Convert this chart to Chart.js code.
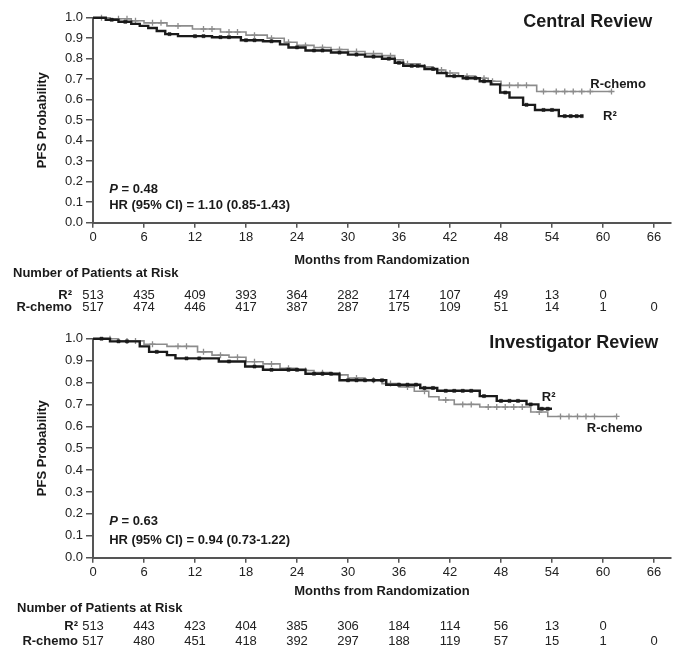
<!DOCTYPE html>
<html>
<head>
<meta charset="utf-8">
<script src="https://cdn.jsdelivr.net/npm/chart.js@4.4.1/dist/chart.umd.min.js"></script>
<style>
  html, body { margin: 0; padding: 0; background: #fff; }
  #wrap { position: relative; width: 683px; height: 659px; overflow: hidden; }
  .panel { position: absolute; left: 0; width: 683px; }
</style>
</head>
<body>
<div id="wrap">
  <div class="panel" style="top:0;height:322px"><canvas id="central" width="683" height="322"></canvas></div>
  <div class="panel" style="top:322px;height:337px"><canvas id="investigator" width="683" height="337"></canvas></div>
</div>
<script>
// ---- axes ----
const monthTicks = [0, 6, 12, 18, 24, 30, 36, 42, 48, 54, 60, 66];
const probTicks = [0, 0.1, 0.2, 0.3, 0.4, 0.5, 0.6, 0.7, 0.8, 0.9, 1.0];

// ---- Central review: Kaplan-Meier steps [month, PFS probability] ----
const centralR2Steps = [[0,1.0],[1.5,0.99],[3,0.98],[4.5,0.97],[5.5,0.96],[6.5,0.95],[7.5,0.935],[8.5,0.92],[10,0.91],[14,0.905],[17.4,0.89],[20,0.885],[22,0.87],[23,0.855],[25,0.84],[28,0.83],[30,0.82],[32,0.81],[34,0.80],[35.5,0.78],[36.5,0.765],[39,0.75],[40.5,0.73],[41.6,0.715],[43.5,0.705],[45.5,0.69],[46.8,0.675],[47.9,0.635],[49,0.61],[50.6,0.575],[52,0.55],[54.8,0.52],[57.5,0.52]];
const centralRchemoSteps = [[0,1.0],[2,0.995],[4.5,0.985],[6,0.975],[8.7,0.96],[11.7,0.945],[15,0.93],[18,0.915],[20.5,0.9],[22.5,0.88],[24,0.865],[26,0.855],[28,0.845],[30,0.835],[32,0.825],[34,0.815],[35.5,0.795],[36.5,0.775],[38.5,0.76],[40,0.745],[41.5,0.73],[43,0.715],[45,0.705],[46.5,0.69],[48,0.67],[52.2,0.64],[61,0.64]];
// censored observations
const centralR2Censored = [[2.2,0.99],[3.8,0.98],[9,0.92],[12,0.91],[13,0.91],[15,0.905],[16,0.905],[18,0.89],[19,0.89],[21,0.885],[24,0.855],[26,0.84],[27,0.84],[29,0.83],[31,0.82],[33,0.81],[34.8,0.80],[36,0.78],[37.5,0.765],[38.2,0.765],[40,0.75],[42.5,0.715],[44,0.705],[45,0.705],[46,0.69],[48.5,0.635],[51,0.575],[53,0.55],[54,0.55],[55.5,0.52],[56.2,0.52],[56.9,0.52],[57.5,0.52]];
const centralRchemoCensored = [[1,1.0],[3,0.995],[4,0.995],[5,0.985],[7,0.975],[8,0.975],[10,0.96],[13,0.945],[14,0.945],[16,0.93],[17,0.93],[19,0.915],[21,0.9],[23,0.88],[25,0.865],[27,0.855],[29,0.845],[31,0.835],[33,0.825],[35,0.815],[37,0.775],[39,0.76],[41,0.745],[42,0.73],[44,0.715],[46,0.705],[47,0.69],[49,0.67],[50,0.67],[51,0.67],[53,0.64],[54.5,0.64],[55.5,0.64],[56.5,0.64],[57.5,0.64],[58.5,0.64],[61,0.64]];
const centralRiskR2 = [513, 435, 409, 393, 364, 282, 174, 107, 49, 13, 0];
const centralRiskRchemo = [517, 474, 446, 417, 387, 287, 175, 109, 51, 14, 1, 0];

// ---- Investigator review ----
const investR2Steps = [[0,1.0],[2,0.988],[5.5,0.965],[6.6,0.94],[8.7,0.925],[9.7,0.91],[14.8,0.896],[17.9,0.873],[20,0.858],[25,0.84],[29,0.81],[34.5,0.79],[38.5,0.775],[40.5,0.762],[45.5,0.738],[47.5,0.716],[51,0.70],[52.4,0.68],[54,0.68]];
const investRchemoSteps = [[0,1.0],[3,0.99],[6,0.975],[8.7,0.965],[12.3,0.94],[14,0.925],[16,0.915],[18,0.895],[20,0.885],[22,0.865],[24,0.855],[26,0.845],[28,0.835],[30,0.82],[32,0.81],[34,0.795],[36,0.78],[37.8,0.76],[39.5,0.735],[40.7,0.72],[42.5,0.70],[45.5,0.688],[51.5,0.665],[53.5,0.645],[61.6,0.645]];
const investR2Censored = [[1,1.0],[3,0.988],[4,0.988],[7.5,0.94],[11,0.91],[12.5,0.91],[16,0.896],[19,0.873],[21,0.858],[23,0.858],[24,0.858],[26,0.84],[27,0.84],[28,0.84],[30,0.81],[31,0.81],[32,0.81],[33,0.81],[34,0.81],[36,0.79],[37,0.79],[38,0.79],[39,0.775],[40,0.775],[41.5,0.762],[42.5,0.762],[43.5,0.762],[44.5,0.762],[46,0.738],[48,0.716],[49,0.716],[50,0.716],[51.5,0.70],[52.8,0.68],[53.5,0.68]];
const investRchemoCensored = [[2,1.0],[4,0.99],[5,0.99],[7,0.975],[10,0.965],[11,0.965],[13,0.94],[15,0.925],[17,0.915],[19,0.895],[21,0.885],[23,0.865],[25,0.855],[27,0.845],[29,0.835],[31,0.82],[33,0.81],[35,0.795],[37,0.78],[39,0.76],[41.5,0.72],[43.5,0.70],[44.5,0.70],[46.5,0.688],[47.5,0.688],[48.5,0.688],[49.5,0.688],[50.5,0.688],[52.5,0.665],[55,0.645],[56,0.645],[57,0.645],[58,0.645],[59,0.645],[61.6,0.645]];
const investRiskR2 = [513, 443, 423, 404, 385, 306, 184, 114, 56, 13, 0];
const investRiskRchemo = [517, 480, 451, 418, 392, 297, 188, 119, 57, 15, 1, 0];

const FONT = "'Liberation Sans', Arial, Helvetica, sans-serif";
const INK = '#1a1a1a';
const GREY = '#8c8c8c';
const toXY = arr => arr.map(([x, y]) => ({ x, y }));

// Draws panel title, series labels, P / HR annotation and the at-risk table
const kmText = {
  id: 'kmText',
  afterDraw(chart, args, o) {
    const { ctx, scales: { x, y } } = chart;
    const px = m => x.getPixelForValue(m);
    const py = v => y.getPixelForValue(v);
    ctx.save();
    ctx.fillStyle = INK;
    ctx.textBaseline = 'middle';

    ctx.font = `bold 18px ${FONT}`;
    ctx.textAlign = 'right';
    ctx.fillText(o.title, px(o.titleAt[0]), py(o.titleAt[1]));

    ctx.font = `bold 13px ${FONT}`;
    ctx.textAlign = 'left';
    ctx.fillText('R-chemo', px(o.rchemoLabelAt[0]), py(o.rchemoLabelAt[1]));
    ctx.fillText('R²', px(o.r2LabelAt[0]), py(o.r2LabelAt[1]));

    // P value with italic P
    const pX = px(o.pAt[0]), pY = py(o.pAt[1]);
    ctx.font = `italic bold 13px ${FONT}`;
    ctx.fillText('P', pX, pY);
    const w = ctx.measureText('P').width;
    ctx.font = `bold 13px ${FONT}`;
    ctx.fillText(' = ' + o.pValue, pX + w, pY);
    ctx.fillText(o.hr, px(o.hrAt[0]), py(o.hrAt[1]));

    // at-risk table
    const base = chart.chartArea.bottom;
    ctx.fillText('Number of Patients at Risk', o.riskHeaderX, base + o.riskRows[0]);
    ctx.textAlign = 'right';
    ctx.fillText('R²', x.left - o.riskLabelGap, base + o.riskRows[1]);
    ctx.fillText('R-chemo', x.left - o.riskLabelGap, base + o.riskRows[2]);
    ctx.font = `13px ${FONT}`;
    ctx.fillStyle = '#222';
    ctx.textAlign = 'center';
    o.riskR2.forEach((n, i) => ctx.fillText(String(n), px(monthTicks[i]), base + o.riskRows[1]));
    o.riskRchemo.forEach((n, i) => ctx.fillText(String(n), px(monthTicks[i]), base + o.riskRows[2]));
    ctx.restore();
  }
};

function kmChart(id, cfg) {
  return new Chart(document.getElementById(id), {
    type: 'line',
    data: {
      datasets: [
        { data: toXY(cfg.r2Censored), showLine: false, pointStyle: 'rect', pointRadius: 2.2,
          pointBackgroundColor: INK, pointBorderColor: INK, pointBorderWidth: 0.5, clip: false },
        { data: toXY(cfg.r2Steps), stepped: true, borderColor: INK, borderWidth: 2.4,
          pointRadius: 0, fill: false, clip: false },
        { data: toXY(cfg.rchemoCensored), showLine: false, pointStyle: 'cross', pointRadius: 3,
          pointBorderColor: GREY, pointBorderWidth: 1.3, clip: false },
        { data: toXY(cfg.rchemoSteps), stepped: true, borderColor: GREY, borderWidth: 1.6,
          pointRadius: 0, fill: false, clip: false }
      ]
    },
    options: {
      responsive: false,
      animation: false,
      events: [],
      layout: { padding: { left: 35, right: 12, top: cfg.padTop, bottom: cfg.padBottom } },
      plugins: {
        legend: { display: false },
        tooltip: { enabled: false },
        kmText: cfg.text
      },
      scales: {
        x: {
          type: 'linear', min: 0, max: 68,
          afterBuildTicks: s => { s.ticks = monthTicks.map(v => ({ value: v })); },
          afterFit: s => { s.height = cfg.xAxisHeight; },
          grid: { drawOnChartArea: false, drawTicks: true, tickLength: 5, color: '#555', lineWidth: 1.5 },
          border: { display: true, color: '#555', width: 2 },
          ticks: { padding: 2, color: '#222', autoSkip: false, maxRotation: 0,
                   font: { family: FONT, size: 13 } },
          title: { display: true, text: 'Months from Randomization', color: INK,
                   padding: { top: 0, bottom: 0 }, font: { family: FONT, size: 13, weight: 'bold' } }
        },
        y: {
          type: 'linear', min: 0, max: 1,
          afterBuildTicks: s => { s.ticks = probTicks.map(v => ({ value: v })); },
          afterFit: s => { s.width = 58; },
          grid: { drawOnChartArea: false, drawTicks: true, tickLength: 7, color: '#555', lineWidth: 1.5 },
          border: { display: true, color: '#555', width: 2 },
          ticks: { padding: 3, color: '#222', callback: v => Number(v).toFixed(1),
                   font: { family: FONT, size: 13 } },
          title: { display: true, text: 'PFS Probability', color: INK,
                   padding: { top: 0, bottom: 0 }, font: { family: FONT, size: 13, weight: 'bold' } }
        }
      }
    },
    plugins: [kmText]
  });
}

kmChart('central', {
  r2Steps: centralR2Steps, rchemoSteps: centralRchemoSteps,
  r2Censored: centralR2Censored, rchemoCensored: centralRchemoCensored,
  padTop: 17.7, padBottom: 53.5, xAxisHeight: 45.8,
  text: {
    title: 'Central Review', titleAt: [65.8, 0.98],
    rchemoLabelAt: [58.5, 0.676], r2LabelAt: [60, 0.516],
    pValue: '0.48', pAt: [1.9, 0.164],
    hr: 'HR (95% CI) = 1.10 (0.85-1.43)', hrAt: [1.9, 0.086],
    riskHeaderX: 13, riskLabelGap: 21, riskRows: [50.3, 72.3, 84.3],
    riskR2: centralRiskR2, riskRchemo: centralRiskRchemo
  }
});

kmChart('investigator', {
  r2Steps: investR2Steps, rchemoSteps: investRchemoSteps,
  r2Censored: investR2Censored, rchemoCensored: investRchemoCensored,
  padTop: 16.7, padBottom: 59.5, xAxisHeight: 41.8,
  text: {
    title: 'Investigator Review', titleAt: [66.5, 0.98],
    rchemoLabelAt: [58.1, 0.592], r2LabelAt: [52.8, 0.734],
    pValue: '0.63', pAt: [1.9, 0.164],
    hr: 'HR (95% CI) = 0.94 (0.73-1.22)', hrAt: [1.9, 0.081],
    riskHeaderX: 17, riskLabelGap: 15, riskRows: [50.3, 68.3, 84],
    riskR2: investRiskR2, riskRchemo: investRiskRchemo
  }
});
</script>
</body>
</html>
